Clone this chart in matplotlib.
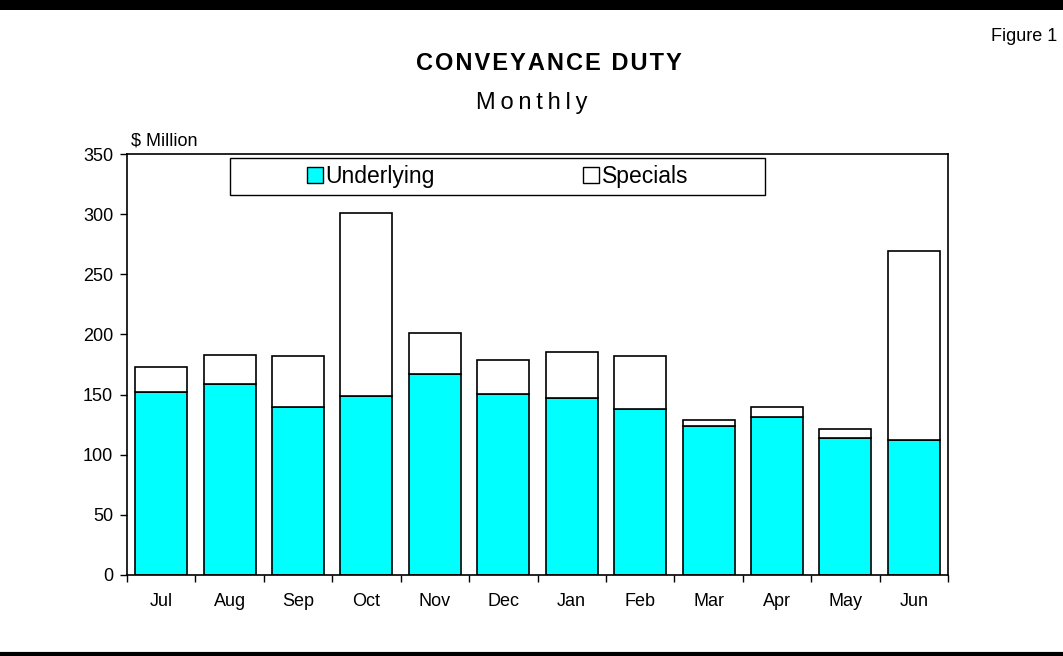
import numpy as np
import matplotlib.pyplot as plt
from matplotlib.patches import Rectangle, Patch

plt.rcParams['font.family'] = ['Liberation Sans', 'DejaVu Sans']

months = ['Jul', 'Aug', 'Sep', 'Oct', 'Nov', 'Dec', 'Jan', 'Feb', 'Mar', 'Apr', 'May', 'Jun']
underlying = [152, 159, 140, 148.5, 167.5, 150.5, 147, 138, 123.5, 131, 113.5, 112]
totals = [173, 182.5, 182, 301, 201, 179, 185, 182, 129, 140, 121, 269]
specials = [t - u for t, u in zip(totals, underlying)]

fig = plt.figure(figsize=(10.63, 6.56), dpi=100)
ax = fig.add_axes([0.1195, 0.1235, 0.7723, 0.6417])

x = np.arange(len(months))
ax.bar(x, underlying, width=0.76, color='#00FFFF', edgecolor='black', linewidth=1.2)
ax.bar(x, specials, bottom=underlying, width=0.76, color='white', edgecolor='black', linewidth=1.2)

ax.set_xlim(-0.5, len(months) - 0.5)
ax.set_ylim(0, 350)
ax.set_yticks(range(0, 351, 50))
ax.set_xticks(x)
ax.set_xticklabels(months, fontsize=13)
ax.tick_params(axis='x', length=0, pad=13)
ax.set_xticks(np.arange(-0.5, len(months)), minor=True)
ax.tick_params(axis='x', which='minor', length=5, direction='out', width=1)
ax.tick_params(axis='y', labelsize=13, length=5, width=1, direction='out', pad=5)
for s in ax.spines.values():
    s.set_linewidth(1.2)

ax.text(0.005, 1.01, '$ Million', transform=ax.transAxes, fontsize=13, va='bottom', ha='left')

# legend box
ax.add_patch(Rectangle((0.1255, 0.9026), 0.6516, 0.0879, transform=ax.transAxes,
                       facecolor='white', edgecolor='black', linewidth=1, zorder=3))
handles = [Patch(facecolor='#00FFFF', edgecolor='black', label='Underlying'),
           Patch(facecolor='white', edgecolor='black', label='Specials')]
ax.legend(handles=handles, loc='center', bbox_to_anchor=(0.4513, 0.9465), ncol=2,
          frameon=False, fontsize=16.5, handlelength=0.7, handleheight=0.7,
          handletextpad=0.1, columnspacing=6.5)

title = '\u200a'.join('CONVEYANCE DUTY')
sub = '\u2009'.join('Monthly')
fig.text(0.516, 0.903, title, fontsize=17, fontweight='bold', ha='center', va='center')
fig.text(0.5, 0.843, sub, fontsize=17, ha='center', va='center')
fig.text(0.995, 0.945, 'Figure 1', fontsize=13, ha='right', va='center')

# thick rules top and bottom
fig.add_artist(plt.Line2D([0, 1], [1 - 5 / 656, 1 - 5 / 656], color='black', linewidth=7.2,
                          transform=fig.transFigure))
fig.add_artist(plt.Line2D([0, 1], [2 / 656, 2 / 656], color='black', linewidth=3,
                          transform=fig.transFigure))

fig.savefig('out.png', dpi=100)
